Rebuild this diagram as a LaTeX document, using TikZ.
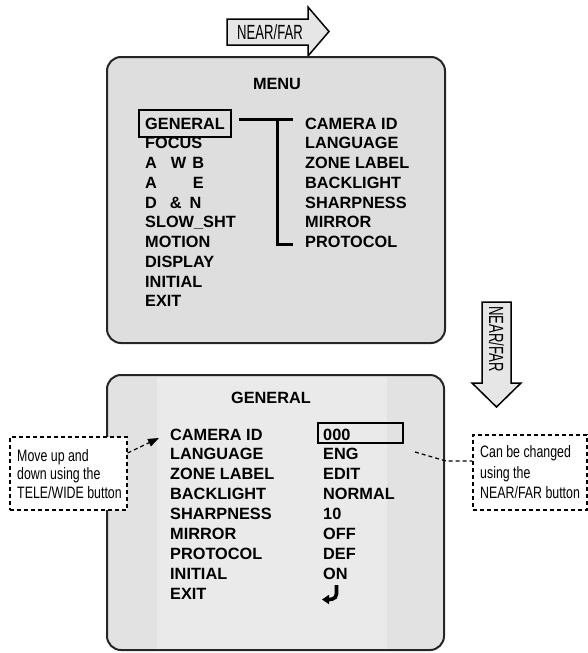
\documentclass[tikz,border=0pt]{standalone}
\usepackage{fontspec}
\setmainfont{Liberation Sans}
\newfontfamily\narrowfont[FakeStretch=0.75]{Liberation Sans}
\newfontfamily\arrowfont[FakeStretch=0.64]{Liberation Sans}
\usetikzlibrary{arrows.meta}
\definecolor{menufill}{HTML}{DEDEDE}
\definecolor{genfill}{HTML}{E2E2E2}
\definecolor{genlight}{HTML}{EAEAEA}
\definecolor{arrowfill}{HTML}{E6E6E6}
\begin{document}
\begin{tikzpicture}[x=1pt,y=-1pt,
  item/.style={anchor=base west, inner sep=0pt, font=\bfseries\fontsize{16.3}{18}\selectfont},
  ttl/.style={anchor=base, inner sep=0pt, font=\bfseries\fontsize{16.3}{18}\selectfont},
  screen/.style={draw=black!85, line width=2pt, rounded corners=14pt},
  selbox/.style={draw, line width=2.5pt, inner sep=0pt},
  bracket/.style={line width=3pt},
  note/.style={draw, fill=white, line width=1.2pt, dash pattern=on 4pt off 3pt, inner sep=0pt},
  notetxt/.style={anchor=base west, inner sep=0pt, font=\narrowfont\fontsize{16.5}{18}\selectfont},
  dashconn/.style={line width=1.2pt, dash pattern=on 4pt off 3pt},
  bigarrow/.style={draw, fill=arrowfill, line width=1.5pt, line join=miter},
  arrtxt/.style={inner sep=0pt, font=\arrowfont\fontsize{20.5}{21}\selectfont}
]
\useasboundingbox (0,0) rectangle (588,653);

% ---- top NEAR/FAR arrow
\draw[bigarrow] (227,19) -- (308,19) -- (308,7) -- (329,31.5) -- (308,56) -- (308,45) -- (227,45) -- cycle;
\node[arrtxt] (tarrtxt) at (270,32) {NEAR/FAR};

% ---- MENU screen
\node[screen, fill=menufill, minimum width=338pt, minimum height=286pt] (menubox) at (276,200) {};
\node[ttl] (menutitle) at (277,89) {MENU};

\foreach \t [count=\i] in {GENERAL, FOCUS, {A\hspace{14pt}W\hspace{6pt}B}, {A\hspace{36pt}E},
  {D\hspace{13pt}\&\hspace{8pt}N}, SLOW\_SHT, MOTION, DISPLAY, INITIAL, EXIT}
  \node[item] (ml\i) at (145,{129+19.75*(\i-1)}) {\t};

\foreach \t [count=\i] in {CAMERA ID, LANGUAGE, ZONE LABEL, BACKLIGHT, SHARPNESS, MIRROR, PROTOCOL}
  \node[item] (mr\i) at (305,{129+19.75*(\i-1)}) {\t};

\node[selbox, minimum width=92pt, minimum height=27pt] (gsel) at (185,123.5) {};

\coordinate (b1) at (239,119);
\coordinate (b2) at (293,119);
\coordinate (bj) at (277,119);
\coordinate (bk) at (277,244);
\coordinate (b3) at (293,244);
\draw[bracket] (b1) -- (b2);
\draw[bracket] (bj) -- (bk) -- (b3);

% ---- vertical NEAR/FAR arrow
\draw[bigarrow] (482,302) -- (511,302) -- (511,383) -- (521,383) -- (496.5,407) -- (472,383) -- (482,383) -- cycle;
\node[arrtxt, rotate=-90] (varrtxt) at (496.5,339) {NEAR/FAR};

% ---- GENERAL screen
\fill[genfill, rounded corners=14pt] (107,375) rectangle (444,650);
\fill[genlight] (157,376.5) rectangle (387,648.5);
\node[screen, minimum width=337pt, minimum height=275pt] (genbox) at (275.5,512.5) {};
\node[ttl] (gentitle) at (271,403) {GENERAL};

\foreach \t [count=\i] in {CAMERA ID, LANGUAGE, ZONE LABEL, BACKLIGHT, SHARPNESS, MIRROR, PROTOCOL, INITIAL, EXIT}
  \node[item] (gl\i) at (170,{440+19.875*(\i-1)}) {\t};

\foreach \t [count=\i] in {000, ENG, EDIT, NORMAL, 10, OFF, DEF, ON}
  \node[item] (gv\i) at (323,{440+19.875*(\i-1)}) {\t};

\node[selbox, minimum width=85pt, minimum height=20pt] (vsel) at (360.5,433) {};

% return symbol
\coordinate (r1) at (336.5,585);
\coordinate (r2) at (336.5,594);
\coordinate (r3) at (322,599.5);
\draw[line width=3.6pt, -{Triangle[length=7pt,width=9pt]}] (r1) -- (r2) to[out=90+180,in=0] (r3);

% ---- notes
\node[note, minimum width=117pt, minimum height=73pt] (lbox) at (68.5,473.5) {};
\node[notetxt] (lt1) at (17,461) {Move up and};
\node[notetxt] (lt2) at (17,479) {down using the};
\node[notetxt] (lt3) at (17,498) {TELE/WIDE button};

\node[note, minimum width=114pt, minimum height=75pt] (rbox) at (530,472.5) {};
\node[notetxt] (rt1) at (480,457) {Can be changed};
\node[notetxt] (rt2) at (480,478) {using the};
\node[notetxt] (rt3) at (480,498) {NEAR/FAR button};

\coordinate (la0) at (127,453);
\coordinate (la1) at (159,438);
\draw[dashconn, -{Triangle[length=11pt,width=8pt]}] (lbox.east |- la0) -- (la1);

\coordinate (c0) at (415,452);
\coordinate (c1) at (446,461);
\draw[dashconn] (c0) -- (c1) -- (rbox.west |- c1);
\end{tikzpicture}
\end{document}
